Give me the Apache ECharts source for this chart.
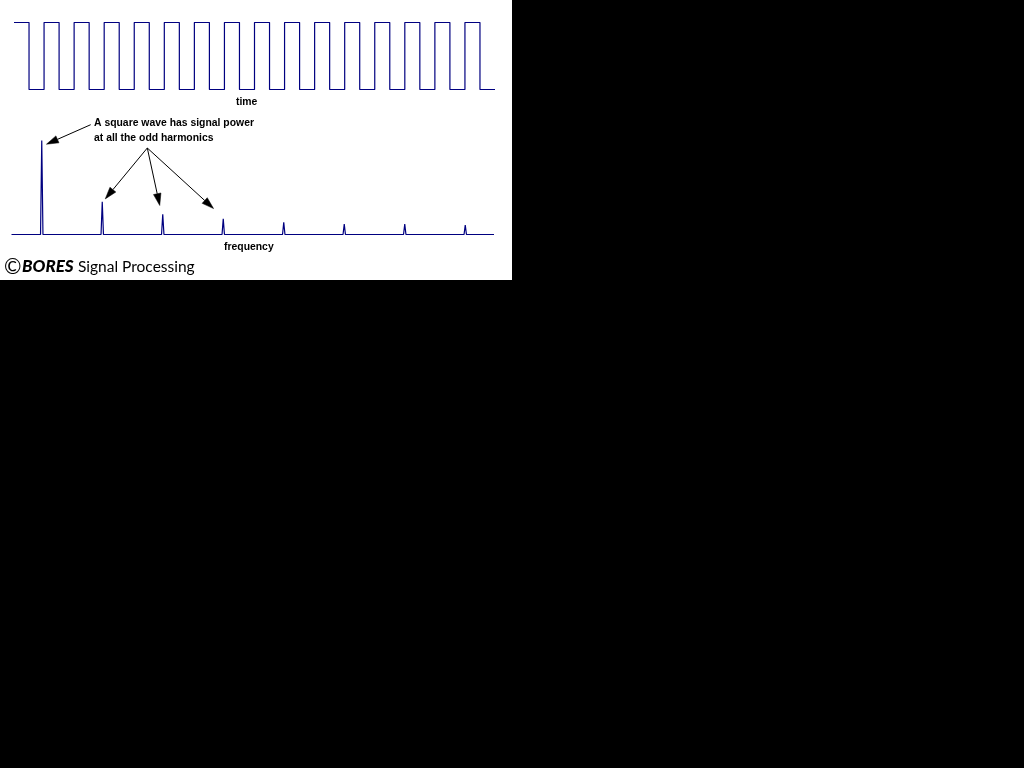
<!DOCTYPE html>
<html>
<head>
<meta charset="utf-8">
<script src="https://cdn.jsdelivr.net/npm/echarts@6/dist/echarts.min.js"></script>
<style>
html,body{margin:0;padding:0;background:#000;}
#chart{width:512px;height:280px;background:#fff;}
</style>
</head>
<body>
<div id="chart"></div>
<script>
// ---- data ----
// square wave (time domain): edge times (in periods) and level held after each edge
const timeEdges  = [0, 0.5, 1, 1.5, 2, 2.5, 3, 3.5, 4, 4.5, 5, 5.5, 6, 6.5, 7, 7.5, 8, 8.5, 9, 9.5, 10, 10.5, 11, 11.5, 12, 12.5, 13, 13.5, 14, 14.5, 15, 15.5, 16];
const timeLevels = [1, -1, 1, -1, 1, -1, 1, -1, 1, -1, 1, -1, 1, -1, 1, -1, 1, -1, 1, -1, 1, -1, 1, -1, 1, -1, 1, -1, 1, -1, 1, -1, -1];
// spectrum: odd harmonics and their relative amplitude
const harmonics  = [1, 3, 5, 7, 9, 11, 13, 15];
const amplitudes = [100, 34.7, 21.6, 16.6, 13.1, 11.0, 11.0, 9.9];
const freqRange  = [0, 15.95];   // extent of the drawn baseline
// texts
const timeLabel = 'time';
const freqLabel = 'frequency';
const noteLines = ['A square wave has signal power', 'at all the odd harmonics'];

// ---- build series data ----
const waveData = timeEdges.map((t, i) => [t, timeLevels[i]]);
const peakHalfWidth = 0.04;
const specData = [[freqRange[0], 0]];
harmonics.forEach((f, i) => {
  specData.push([f - peakHalfWidth, 0], [f, amplitudes[i]], [f + peakHalfWidth, 0]);
});
specData.push([freqRange[1], 0]);

const NAVY = '#000080';
const chart = echarts.init(document.getElementById('chart'), null, {renderer: 'canvas'});

const option = {
  backgroundColor: '#ffffff',
  animation: false,
  grid: [
    {left: 14, width: 481, top: 22.5, height: 67},
    {left: 11.5, width: 484, top: 140.5, height: 94}
  ],
  xAxis: [
    {gridIndex: 0, type: 'value', min: 0, max: 16, show: false},
    {gridIndex: 1, type: 'value', min: 0, max: 16, show: false}
  ],
  yAxis: [
    {gridIndex: 0, type: 'value', min: -1, max: 1, show: false},
    {gridIndex: 1, type: 'value', min: 0, max: 100, show: false}
  ],
  series: [
    {
      type: 'line', xAxisIndex: 0, yAxisIndex: 0, step: 'end',
      data: waveData, showSymbol: false, symbol: 'none',
      lineStyle: {color: NAVY, width: 1.2}, silent: true
    },
    {
      type: 'line', xAxisIndex: 1, yAxisIndex: 1,
      data: specData, showSymbol: false, symbol: 'none',
      lineStyle: {color: NAVY, width: 1.2}, silent: true
    }
  ]
};
chart.setOption(option);

// ---- annotations ----
function arrow(start, tip) {
  const dx = tip[0] - start[0], dy = tip[1] - start[1];
  const len = Math.sqrt(dx * dx + dy * dy);
  const ux = dx / len, uy = dy / len;
  const nx = -uy, ny = ux;
  const L = 12, W = 3.8;
  const bx = tip[0] - ux * L, by = tip[1] - uy * L;
  return [
    {type: 'line', shape: {x1: start[0], y1: start[1], x2: bx, y2: by},
     style: {stroke: '#000', lineWidth: 1}},
    {type: 'polygon', shape: {points: [tip, [bx + nx * W, by + ny * W], [bx - nx * W, by - ny * W]]},
     style: {fill: '#000', stroke: '#000', lineWidth: 0.5}}
  ];
}
const peakPx = harmonics.map((f, i) => chart.convertToPixel({gridIndex: 1}, [f, amplitudes[i]]));
const noteStart1 = [90.7, 124.7];
const noteStart2 = [147.3, 148];
const arrows = []
  .concat(arrow(noteStart1, [peakPx[0][0] + 4.7, peakPx[0][1] + 3.7]))
  .concat(arrow(noteStart2, [peakPx[1][0] + 3, peakPx[1][1] - 3]))
  .concat(arrow(noteStart2, [peakPx[2][0] - 3, peakPx[2][1] - 8.7]))
  .concat(arrow(noteStart2, [peakPx[3][0] - 9.7, peakPx[3][1] - 10.3]));

const labelFont = {fontFamily: 'Liberation Sans', fontWeight: 'bold', fontSize: 10.4, fill: '#000'};
chart.setOption({
  graphic: [
    {type: 'text', left: 236, top: 97, style: Object.assign({text: timeLabel}, labelFont)},
    {type: 'text', left: 224, top: 242, style: Object.assign({text: freqLabel}, labelFont)},
    {type: 'text', left: 94, top: 118, style: Object.assign({text: noteLines[0]}, labelFont)},
    {type: 'text', left: 94, top: 133, style: Object.assign({text: noteLines[1]}, labelFont)},
    {type: 'text', left: 4, top: 257, style: {text: '\u00A9', fontFamily: 'Lato', fontSize: 21, fill: '#000'}},
    {type: 'text', left: 22, top: 258, style: {text: 'BORES', fontFamily: 'Lato', fontWeight: 900, fontStyle: 'italic', fontSize: 17, fill: '#000'}},
    {type: 'text', left: 78, top: 259, style: {text: 'Signal Processing', fontFamily: 'Lato', fontSize: 15.5, fill: '#000'}}
  ].concat(arrows)
});
</script>
</body>
</html>
